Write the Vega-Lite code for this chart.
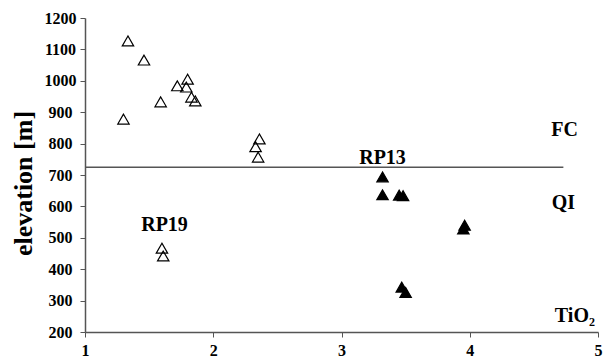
{
  "$schema": "https://vega.github.io/schema/vega-lite/v6.json",
  "autosize": "none",
  "width": 513,
  "height": 314,
  "padding": {"left": 85, "top": 18, "right": 13, "bottom": 26},
  "background": "white",
  "config": {"view": {"stroke": null}, "font": "Liberation Serif", "axis": {"labelOverlap": false}},
  "datasets": {
    "pts": [
      {"TiO2": 1.335, "elev": 1127, "group": "open"},
      {"TiO2": 1.46, "elev": 1066, "group": "open"},
      {"TiO2": 1.30, "elev": 878, "group": "open"},
      {"TiO2": 1.59, "elev": 933, "group": "open"},
      {"TiO2": 1.72, "elev": 984, "group": "open"},
      {"TiO2": 1.80, "elev": 1005, "group": "open"},
      {"TiO2": 1.79, "elev": 980, "group": "open"},
      {"TiO2": 1.83, "elev": 948, "group": "open"},
      {"TiO2": 1.86, "elev": 936, "group": "open"},
      {"TiO2": 2.36, "elev": 815, "group": "open"},
      {"TiO2": 2.33, "elev": 790, "group": "open"},
      {"TiO2": 2.35, "elev": 757, "group": "open"},
      {"TiO2": 1.60, "elev": 467, "group": "open"},
      {"TiO2": 1.61, "elev": 442, "group": "open"},
      {"TiO2": 3.32, "elev": 694, "group": "filled"},
      {"TiO2": 3.32, "elev": 637, "group": "filled"},
      {"TiO2": 3.45, "elev": 636, "group": "filled"},
      {"TiO2": 3.48, "elev": 634, "group": "filled"},
      {"TiO2": 3.96, "elev": 540, "group": "filled"},
      {"TiO2": 3.95, "elev": 528, "group": "filled"},
      {"TiO2": 3.47, "elev": 343, "group": "filled"},
      {"TiO2": 3.50, "elev": 326, "group": "filled"}
    ],
    "labels": [
      {"TiO2": 3.32, "elev": 754, "text": "RP13"},
      {"TiO2": 1.62, "elev": 540, "text": "RP19"},
      {"TiO2": 4.74, "elev": 843, "text": "FC"},
      {"TiO2": 4.73, "elev": 611, "text": "QI"},
      {"TiO2": 4.82, "elev": 252, "text": "TiO₂"}
    ],
    "line": [{"x1": 1, "x2": 4.73, "elev": 725}]
  },
  "layer": [
    {
      "data": {"name": "pts"},
      "mark": {"type": "point", "shape": "triangle-up", "size": 130, "strokeWidth": 1.2, "opacity": 1},
      "encoding": {
        "x": {
          "field": "TiO2", "type": "quantitative",
          "scale": {"domain": [1, 5], "nice": false, "zero": false},
          "axis": {"values": [1, 2, 3, 4, 5], "format": "d", "labelOverlap": false, "title": null, "grid": false, "domainColor": "#555555", "domainWidth": 1.5, "tickColor": "#555555", "tickSize": 5, "labelFont": "Liberation Serif", "labelFontWeight": "bold", "labelFontSize": 16, "labelColor": "black", "labelPadding": 5, "labelFlush": false}
        },
        "y": {
          "field": "elev", "type": "quantitative",
          "scale": {"domain": [200, 1200], "nice": false, "zero": false},
          "axis": {"values": [200, 300, 400, 500, 600, 700, 800, 900, 1000, 1100, 1200], "tickCount": 11, "format": "d", "labelOverlap": false, "labelAlign": "center", "title": "elevation [m]", "titleFont": "Liberation Serif", "titleFontSize": 26, "titleFontWeight": "bold", "titleColor": "black", "titleX": -62, "titleY": 165, "titleAngle": 270, "titleAlign": "center", "titleBaseline": "middle", "grid": false, "domainColor": "#555555", "domainWidth": 1.5, "tickColor": "#555555", "tickSize": 5, "labelFont": "Liberation Serif", "labelFontWeight": "bold", "labelFontSize": 16, "labelColor": "black", "labelPadding": 20}
        },
        "fill": {"field": "group", "type": "nominal", "scale": {"domain": ["open", "filled"], "range": ["transparent", "black"]}, "legend": null},
        "stroke": {"value": "black"}
      }
    },
    {
      "data": {"name": "line"},
      "mark": {"type": "rule", "color": "#555555", "strokeWidth": 1.5},
      "encoding": {
        "x": {"field": "x1", "type": "quantitative"},
        "x2": {"field": "x2"},
        "y": {"field": "elev", "type": "quantitative"}
      }
    },
    {
      "data": {"name": "labels"},
      "mark": {"type": "text", "font": "Liberation Serif", "fontWeight": "bold", "fontSize": 20, "color": "black"},
      "encoding": {
        "x": {"field": "TiO2", "type": "quantitative"},
        "y": {"field": "elev", "type": "quantitative"},
        "text": {"field": "text"}
      }
    }
  ]
}
